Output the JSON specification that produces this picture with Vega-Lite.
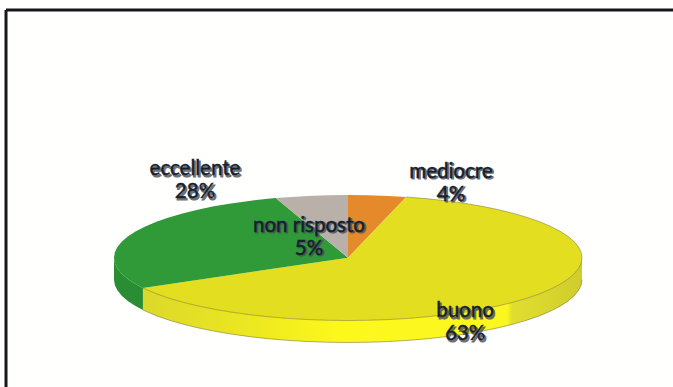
{
  "$schema": "https://vega.github.io/schema/vega-lite/v6.json",
  "width": 673,
  "height": 387,
  "padding": 0,
  "autosize": "none",
  "background": "#fffffe",
  "config": {"view": {"stroke": null}},
  "datasets": {
    "faces": [
      {"slice":"mediocre","i":0,"u":0,"v":0},{"slice":"mediocre","i":1,"u":0,"v":1},{"slice":"mediocre","i":2,"u":0.0872,"v":0.9962},{"slice":"mediocre","i":3,"u":0.1736,"v":0.9848},{"slice":"mediocre","i":4,"u":0.2487,"v":0.9686},
      {"slice":"buono","i":0,"u":0,"v":0},{"slice":"buono","i":1,"u":0.2487,"v":0.9686},{"slice":"buono","i":2,"u":0.3420,"v":0.9397},{"slice":"buono","i":3,"u":0.4226,"v":0.9063},{"slice":"buono","i":4,"u":0.5,"v":0.8660},{"slice":"buono","i":5,"u":0.5736,"v":0.8192},{"slice":"buono","i":6,"u":0.6428,"v":0.7660},{"slice":"buono","i":7,"u":0.7071,"v":0.7071},{"slice":"buono","i":8,"u":0.7660,"v":0.6428},{"slice":"buono","i":9,"u":0.8192,"v":0.5736},{"slice":"buono","i":10,"u":0.8660,"v":0.5},{"slice":"buono","i":11,"u":0.9063,"v":0.4226},{"slice":"buono","i":12,"u":0.9397,"v":0.3420},{"slice":"buono","i":13,"u":0.9659,"v":0.2588},{"slice":"buono","i":14,"u":0.9848,"v":0.1736},{"slice":"buono","i":15,"u":0.9962,"v":0.0872},{"slice":"buono","i":16,"u":1,"v":0},{"slice":"buono","i":17,"u":0.9962,"v":-0.0872},{"slice":"buono","i":18,"u":0.9848,"v":-0.1736},{"slice":"buono","i":19,"u":0.9659,"v":-0.2588},{"slice":"buono","i":20,"u":0.9397,"v":-0.3420},{"slice":"buono","i":21,"u":0.9063,"v":-0.4226},{"slice":"buono","i":22,"u":0.8660,"v":-0.5},{"slice":"buono","i":23,"u":0.8192,"v":-0.5736},{"slice":"buono","i":24,"u":0.7660,"v":-0.6428},{"slice":"buono","i":25,"u":0.7071,"v":-0.7071},{"slice":"buono","i":26,"u":0.6428,"v":-0.7660},{"slice":"buono","i":27,"u":0.5736,"v":-0.8192},{"slice":"buono","i":28,"u":0.5,"v":-0.8660},{"slice":"buono","i":29,"u":0.4226,"v":-0.9063},{"slice":"buono","i":30,"u":0.3420,"v":-0.9397},{"slice":"buono","i":31,"u":0.2588,"v":-0.9659},{"slice":"buono","i":32,"u":0.1736,"v":-0.9848},{"slice":"buono","i":33,"u":0.0872,"v":-0.9962},{"slice":"buono","i":34,"u":0,"v":-1},{"slice":"buono","i":35,"u":-0.0872,"v":-0.9962},{"slice":"buono","i":36,"u":-0.1736,"v":-0.9848},{"slice":"buono","i":37,"u":-0.2588,"v":-0.9659},{"slice":"buono","i":38,"u":-0.3420,"v":-0.9397},{"slice":"buono","i":39,"u":-0.4226,"v":-0.9063},{"slice":"buono","i":40,"u":-0.5,"v":-0.8660},{"slice":"buono","i":41,"u":-0.5736,"v":-0.8192},{"slice":"buono","i":42,"u":-0.6428,"v":-0.7660},{"slice":"buono","i":43,"u":-0.7071,"v":-0.7071},{"slice":"buono","i":44,"u":-0.7660,"v":-0.6428},{"slice":"buono","i":45,"u":-0.8192,"v":-0.5736},{"slice":"buono","i":46,"u":-0.8660,"v":-0.5},{"slice":"buono","i":47,"u":-0.8763,"v":-0.4818},
      {"slice":"eccellente","i":0,"u":0,"v":0},{"slice":"eccellente","i":1,"u":-0.8763,"v":-0.4818},{"slice":"eccellente","i":2,"u":-0.9063,"v":-0.4226},{"slice":"eccellente","i":3,"u":-0.9397,"v":-0.3420},{"slice":"eccellente","i":4,"u":-0.9659,"v":-0.2588},{"slice":"eccellente","i":5,"u":-0.9848,"v":-0.1736},{"slice":"eccellente","i":6,"u":-0.9962,"v":-0.0872},{"slice":"eccellente","i":7,"u":-1,"v":0},{"slice":"eccellente","i":8,"u":-0.9962,"v":0.0872},{"slice":"eccellente","i":9,"u":-0.9848,"v":0.1736},{"slice":"eccellente","i":10,"u":-0.9659,"v":0.2588},{"slice":"eccellente","i":11,"u":-0.9397,"v":0.3420},{"slice":"eccellente","i":12,"u":-0.9063,"v":0.4226},{"slice":"eccellente","i":13,"u":-0.8660,"v":0.5},{"slice":"eccellente","i":14,"u":-0.8192,"v":0.5736},{"slice":"eccellente","i":15,"u":-0.7660,"v":0.6428},{"slice":"eccellente","i":16,"u":-0.7071,"v":0.7071},{"slice":"eccellente","i":17,"u":-0.6428,"v":0.7660},{"slice":"eccellente","i":18,"u":-0.5736,"v":0.8192},{"slice":"eccellente","i":19,"u":-0.5,"v":0.8660},{"slice":"eccellente","i":20,"u":-0.4226,"v":0.9063},{"slice":"eccellente","i":21,"u":-0.3420,"v":0.9397},{"slice":"eccellente","i":22,"u":-0.3090,"v":0.9511},
      {"slice":"non risposto","i":0,"u":0,"v":0},{"slice":"non risposto","i":1,"u":-0.3090,"v":0.9511},{"slice":"non risposto","i":2,"u":-0.2588,"v":0.9659},{"slice":"non risposto","i":3,"u":-0.1736,"v":0.9848},{"slice":"non risposto","i":4,"u":-0.0872,"v":0.9962},{"slice":"non risposto","i":5,"u":0,"v":1}
    ],
    "walls": [
      {"slice":"eccellente","u":-0.8763,"v":-0.4818,"vb":-0.8318},{"slice":"eccellente","u":-0.9063,"v":-0.4226,"vb":-0.7726},{"slice":"eccellente","u":-0.9397,"v":-0.3420,"vb":-0.6920},{"slice":"eccellente","u":-0.9659,"v":-0.2588,"vb":-0.6088},{"slice":"eccellente","u":-0.9848,"v":-0.1736,"vb":-0.5236},{"slice":"eccellente","u":-0.9962,"v":-0.0872,"vb":-0.4372},{"slice":"eccellente","u":-1,"v":0,"vb":-0.35},
      {"slice":"buono","u":1,"v":0,"vb":-0.35},{"slice":"buono","u":0.9962,"v":-0.0872,"vb":-0.4372},{"slice":"buono","u":0.9848,"v":-0.1736,"vb":-0.5236},{"slice":"buono","u":0.9659,"v":-0.2588,"vb":-0.6088},{"slice":"buono","u":0.9397,"v":-0.3420,"vb":-0.6920},{"slice":"buono","u":0.9063,"v":-0.4226,"vb":-0.7726},{"slice":"buono","u":0.8660,"v":-0.5,"vb":-0.85},{"slice":"buono","u":0.8192,"v":-0.5736,"vb":-0.9236},{"slice":"buono","u":0.7660,"v":-0.6428,"vb":-0.9928},{"slice":"buono","u":0.7071,"v":-0.7071,"vb":-1.0571},{"slice":"buono","u":0.6428,"v":-0.7660,"vb":-1.1160},{"slice":"buono","u":0.5736,"v":-0.8192,"vb":-1.1692},{"slice":"buono","u":0.5,"v":-0.8660,"vb":-1.2160},{"slice":"buono","u":0.4226,"v":-0.9063,"vb":-1.2563},{"slice":"buono","u":0.3420,"v":-0.9397,"vb":-1.2897},{"slice":"buono","u":0.2588,"v":-0.9659,"vb":-1.3159},{"slice":"buono","u":0.1736,"v":-0.9848,"vb":-1.3348},{"slice":"buono","u":0.0872,"v":-0.9962,"vb":-1.3462},{"slice":"buono","u":0,"v":-1,"vb":-1.35},{"slice":"buono","u":-0.0872,"v":-0.9962,"vb":-1.3462},{"slice":"buono","u":-0.1736,"v":-0.9848,"vb":-1.3348},{"slice":"buono","u":-0.2588,"v":-0.9659,"vb":-1.3159},{"slice":"buono","u":-0.3420,"v":-0.9397,"vb":-1.2897},{"slice":"buono","u":-0.4226,"v":-0.9063,"vb":-1.2563},{"slice":"buono","u":-0.5,"v":-0.8660,"vb":-1.2160},{"slice":"buono","u":-0.5736,"v":-0.8192,"vb":-1.1692},{"slice":"buono","u":-0.6428,"v":-0.7660,"vb":-1.1160},{"slice":"buono","u":-0.7071,"v":-0.7071,"vb":-1.0571},{"slice":"buono","u":-0.7660,"v":-0.6428,"vb":-0.9928},{"slice":"buono","u":-0.8192,"v":-0.5736,"vb":-0.9236},{"slice":"buono","u":-0.8660,"v":-0.5,"vb":-0.85},{"slice":"buono","u":-0.8763,"v":-0.4818,"vb":-0.8318}
    ],
    "labels": [
      {"slice":"eccellente","value":28,"label":"eccellente\n28%","u":-0.654,"v":1.414},
      {"slice":"non risposto","value":5,"label":"non risposto\n5%","u":-0.167,"v":0.506},
      {"slice":"mediocre","value":4,"label":"mediocre\n4%","u":0.44,"v":1.367},
      {"slice":"buono","value":63,"label":"buono\n63%","u":0.5,"v":-0.849}
    ]
  },
  "encoding": {
    "x": {"field":"u","type":"quantitative","axis":null,"scale":{"domain":[-1,1],"range":[114,582]}},
    "y": {"field":"v","type":"quantitative","axis":null,"scale":{"domain":[-1,1],"range":[320.5,195]}}
  },
  "layer": [
    {
      "data": {"name":"walls"},
      "transform": [{"filter":"datum.slice === 'eccellente'"}],
      "mark": {"type":"area","fill":"#2b8d33","stroke":null},
      "encoding": {"y2":{"field":"vb"}}
    },
    {
      "data": {"name":"walls"},
      "transform": [{"filter":"datum.slice === 'buono'"}],
      "mark": {"type":"area","stroke":null,"fill":{"gradient":"linear","x1":0,"x2":1,"y1":0,"y2":0,"stops":[
        {"offset":0,"color":"#dcd82a"},
        {"offset":0.25,"color":"#ece820"},
        {"offset":0.45,"color":"#fdf81c"},
        {"offset":0.83,"color":"#fbf620"},
        {"offset":0.84,"color":"#e2de30"},
        {"offset":1,"color":"#cfcd2c"}
      ]}},
      "encoding": {"y2":{"field":"vb"}}
    },
    {
      "data": {"name":"walls"},
      "transform": [{"filter":"datum.slice === 'buono'"}],
      "mark": {"type":"line","stroke":"#5f5c12","strokeWidth":0.8,"strokeOpacity":0.6},
      "encoding": {"y":{"field":"vb","type":"quantitative"}}
    },
    {
      "data": {"name":"faces"},
      "mark": {"type":"line","filled":true,"strokeWidth":0.5},
      "encoding": {
        "order": {"field":"i","type":"quantitative"},
        "detail": {"field":"slice"},
        "color": {
          "field":"slice","type":"nominal","legend":null,
          "scale":{"domain":["mediocre","buono","eccellente","non risposto"],"range":["#e58a2b","#e3df20","#2f9a37","#b9b1a9"]}
        }
      }
    },
    {
      "data": {"name":"faces"},
      "transform": [{"filter":"datum.slice === 'buono' && datum.i > 0"}],
      "mark": {"type":"line","stroke":"#5f5c12","strokeWidth":0.8,"strokeOpacity":0.55},
      "encoding": {"order":{"field":"i","type":"quantitative"}}
    },
    {
      "data": {"values":[{"u":-1.4615,"v":3.95,"ue":1.5,"ve":-2.2}]},
      "mark": {"type":"rule","color":"#15181c","strokeWidth":3},
      "encoding": {"x2":{"field":"ue"}}
    },
    {
      "data": {"values":[{"u":-1.4615,"v":3.95,"ue":1.5,"ve":-2.2}]},
      "mark": {"type":"rule","color":"#15181c","strokeWidth":3},
      "encoding": {"y2":{"field":"ve"}}
    },
    {
      "data": {"name":"labels"},
      "mark": {"type":"text","font":"Lato","fontSize":20.5,"lineHeight":23,"lineBreak":"\n","align":"center","baseline":"middle","dx":1.5,"dy":1.5,"fill":"#4a4e58","opacity":0.8,"stroke":"#4a4e58","strokeWidth":1.2},
      "encoding": {"text":{"field":"label"}}
    },
    {
      "data": {"name":"labels"},
      "mark": {"type":"text","font":"Lato","fontSize":20.5,"lineHeight":23,"lineBreak":"\n","align":"center","baseline":"middle","fill":"#14202c","stroke":"#14202c","strokeWidth":0.4},
      "encoding": {"text":{"field":"label"}}
    }
  ]
}
